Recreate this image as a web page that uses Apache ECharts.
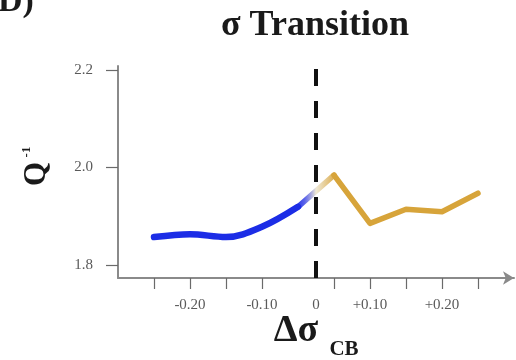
<!DOCTYPE html>
<html>
<head>
<meta charset="utf-8">
<script src="https://cdn.jsdelivr.net/npm/echarts@6/dist/echarts.min.js"></script>
<style>
  html, body { margin: 0; padding: 0; background: #fff; }
  #chart { width: 516px; height: 360px; }
</style>
</head>
<body>
<div id="chart"></div>
<script>
// Q^-1 before (blue) and after (gold) the sigma transition
const beforeValues = [1.857, 1.863, 1.857, 1.878, 1.919];
const afterValues = [1.984, 1.885, 1.914, 1.909, 1.947];
// tick labels along the offset axis and the slots they sit on
const xTickLabels = ['-0.20', '-0.10', '0', '+0.10', '+0.20'];
const xTickSlots = [2, 4, 5.5, 7, 9];
const yTickValues = [1.8, 2.0, 2.2];
const transitionAt = 5.5;

const blue = '#1c2de6';
const gold = '#d7a43a';
const serif = '"Liberation Serif", "DejaVu Serif", serif';

const beforeData = beforeValues.map((v, i) => [i + 1, v]);
const afterData = afterValues.map((v, i) => [i + 1 + beforeValues.length, v]);
const bridgeData = [beforeData[beforeData.length - 1], afterData[0]];
const pointTicks = beforeData.slice(0, -1).map(d => d[0]).concat(afterData.map(d => d[0]));

const chart = echarts.init(document.getElementById('chart'), null, { renderer: 'canvas' });

chart.setOption({
  animation: false,
  backgroundColor: '#ffffff',
  grid: { left: 118, right: 2, top: 66, bottom: 82, containLabel: false },
  xAxis: {
    type: 'value',
    min: 0,
    max: 11,
    splitLine: { show: false },
    axisLine: {
      show: true,
      lineStyle: { color: '#8a8a8a', width: 2 },
      symbol: ['none', 'arrow'],
      symbolSize: [10, 11]
    },
    axisTick: {
      show: true,
      length: 11,
      lineStyle: { color: '#6a6a6a', width: 1.2 },
      customValues: pointTicks
    },
    axisLabel: {
      show: true,
      margin: 20,
      color: '#5a5a5a',
      fontFamily: serif,
      fontSize: 15,
      customValues: xTickSlots,
      formatter: v => {
        const k = xTickSlots.indexOf(v);
        return k >= 0 ? xTickLabels[k] : '';
      }
    }
  },
  yAxis: {
    type: 'value',
    min: 1.773,
    max: 2.208,
    splitLine: { show: false },
    axisLine: { show: true, lineStyle: { color: '#8a8a8a', width: 2 } },
    axisTick: {
      show: true,
      length: 12,
      lineStyle: { color: '#6a6a6a', width: 1.2 },
      customValues: yTickValues
    },
    axisLabel: {
      show: true,
      margin: 25,
      color: '#5a5a5a',
      fontFamily: serif,
      fontSize: 15,
      customValues: yTickValues,
      formatter: v => v.toFixed(1)
    }
  },
  series: [
    {
      type: 'line',
      data: beforeData,
      smooth: 0.35,
      symbol: 'none',
      lineStyle: { color: blue, width: 6.5, cap: 'round' },
      z: 3
    },
    {
      type: 'line',
      data: bridgeData,
      symbol: 'none',
      lineStyle: {
        width: 5.5,
        cap: 'round',
        color: new echarts.graphic.LinearGradient(0, 0, 1, 0, [
          { offset: 0, color: blue },
          { offset: 0.22, color: 'rgba(60,70,230,0.85)' },
          { offset: 0.5, color: '#efe9d6' },
          { offset: 0.8, color: '#e3c27e' },
          { offset: 1, color: gold }
        ])
      },
      z: 2
    },
    {
      type: 'line',
      data: afterData,
      symbol: 'none',
      lineStyle: { color: gold, width: 5.5, cap: 'round', join: 'round' },
      z: 3,
      markLine: {
        silent: true,
        symbol: 'none',
        label: { show: false },
        lineStyle: { color: '#111', width: 4, type: [17, 15] },
        data: [{ xAxis: transitionAt }],
        z: 5
      }
    }
  ],
  graphic: [
    {
      type: 'text',
      x: 315, y: 44,
      style: {
        text: 'σ Transition',
        fill: '#1a1a1a',
        font: 'bold 36px ' + serif,
        textAlign: 'center',
        textVerticalAlign: 'bottom'
      }
    },
    {
      type: 'text',
      x: -2, y: 19,
      style: {
        text: 'D)',
        fill: '#1a1a1a',
        font: 'bold 34px ' + serif,
        textAlign: 'left',
        textVerticalAlign: 'bottom'
      }
    },
    {
      type: 'text',
      x: 296, y: 350,
      style: {
        text: 'Δσ',
        fill: '#1a1a1a',
        font: 'bold 38px ' + serif,
        textAlign: 'center',
        textVerticalAlign: 'bottom'
      }
    },
    {
      type: 'text',
      x: 344, y: 360,
      style: {
        text: 'CB',
        fill: '#1a1a1a',
        font: 'bold 21px ' + serif,
        textAlign: 'center',
        textVerticalAlign: 'bottom'
      }
    },
    {
      type: 'text',
      x: 37, y: 174,
      rotation: Math.PI / 2,
      style: {
        text: 'Q',
        fill: '#1a1a1a',
        font: 'bold 31px ' + serif,
        textAlign: 'center',
        textVerticalAlign: 'middle'
      }
    },
    {
      type: 'text',
      x: 27, y: 152,
      rotation: Math.PI / 2,
      style: {
        text: '-1',
        fill: '#1a1a1a',
        font: 'bold 13px ' + serif,
        textAlign: 'center',
        textVerticalAlign: 'middle'
      }
    }
  ]
});
</script>
</body>
</html>
